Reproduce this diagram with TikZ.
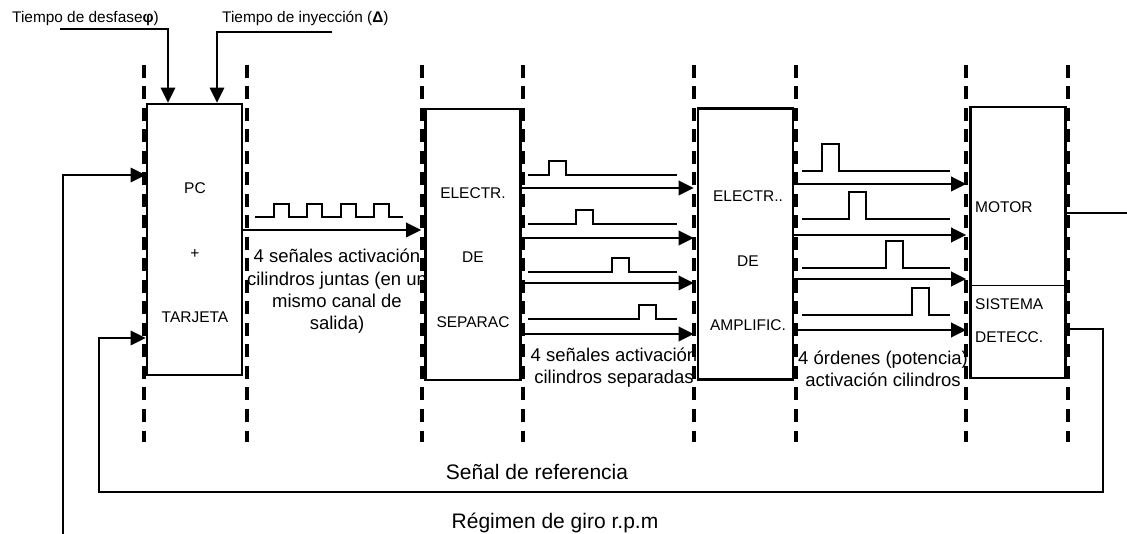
\documentclass[tikz,border=0pt]{standalone}
\usepackage{fontspec}
\setmainfont{Liberation Sans}
\usetikzlibrary{arrows.meta,positioning}

\begin{document}
\begin{tikzpicture}[
  x=1pt, y=-1pt,
  >={Triangle[length=15pt,width=14.5pt]},
  blk/.style={draw,line width=2.6pt,inner sep=0pt,minimum width=95pt,minimum height=271pt},
  boxtxt/.style={align=center,inner sep=0pt,font=\fontsize{15.5}{64.5}\selectfont},
  motxt/.style={anchor=west,align=left,inner sep=0pt,font=\fontsize{15.5}{33}\selectfont},
  guide/.style={line width=4pt,dash pattern=on 13pt off 8.5pt},
  sig/.style={->,line width=2pt,shorten >=3pt},
  wave/.style={line width=1.5pt},
  fb/.style={line width=1.5pt},
  lbl/.style={align=center,inner sep=0pt,font=\fontsize{18.5}{22.3}\selectfont},
  biglbl/.style={inner sep=0pt,font=\fontsize{21}{25}\selectfont},
  toplbl/.style={anchor=base west,inner sep=0pt,font=\fontsize{15.4}{18}\selectfont},
]
\useasboundingbox (0,0) rectangle (1127,534);

% blocks
\node[blk] (pc)    at (194.5,239.5) {};
\node[blk] (sep)   at (473,244.5) {};
\node[blk] (amp)   at (745.5,244) {};
\node[blk] (motor) at (1018,242.5) {};
\draw[line width=1pt,shorten <=1.5pt,shorten >=1.5pt] (motor.west |- 0,286) -- (motor.east |- 0,286);

\node[boxtxt] (pcTxt)  at (195,253)   {PC\\+\\TARJETA};
\node[boxtxt] (sepTxt) at (473,257.5) {ELECTR.\\DE\\SEPARAC};
\node[boxtxt] (ampTxt) at (748,261)   {ELECTR..\\DE\\AMPLIFIC.};
\node[motxt]  (motTxt) at (975,207)   {MOTOR};
\node[motxt]  (detTxt) at (975,320.5) {SISTEMA\\DETECC.};

% inputs on top
\coordinate (phiIn)   at (60,29);
\coordinate (deltaIn) at (332,32);
\node[toplbl] (phiLbl)   at (12,23)  {Tiempo de desfase\textbf{φ})};
\node[toplbl] (deltaLbl) at (222,23) {Tiempo de inyección (\textbf{Δ})};
\draw[fb,->] (phiIn) -| ([xshift=-26.5pt]pc.north);
\draw[fb,->] (deltaIn) -| ([xshift=22.5pt]pc.north);

% joined signals
\draw[wave] (255,217) foreach \p in {274,307,341,374} { -- (\p,217) -- (\p,204) -- ++(15,0) -- ++(0,13) } -- (403,217);
\draw[sig] (pc.east |- 0,230) -- (sep.west |- 0,230);
\node[lbl] (jointLbl) at (337,291.5) {4 señales activación\\cilindros juntas (en un\\mismo canal de\\salida)};

% separated signals
\foreach \yb/\p/\ya in {175/549/188, 224/576/238, 272/612/283, 319/639/334}{
  \draw[wave] (528,\yb) -- (\p,\yb) -- ++(0,-14) -- ++(17,0) -- ++(0,14) -- (677,\yb);
  \draw[sig] (sep.east |- 0,\ya) -- (amp.west |- 0,\ya);
}
\node[lbl] (sepLbl) at (614,367.5) {4 señales activación\\cilindros separadas};

% power orders
\foreach \yb/\p/\ya in {171/822/184, 219/849/235, 268/886/279, 315/912/330}{
  \draw[wave] (802,\yb) -- (\p,\yb) -- ++(0,-27) -- ++(17,0) -- ++(0,27) -- (950,\yb);
  \draw[sig] (amp.east |- 0,\ya) -- (motor.west |- 0,\ya);
}
\node[lbl] (ampLbl) at (883,368.5) {4 órdenes (potencia)\\activación cilindros};

% dashed guides
\foreach \x in {144,247,422,523,694,796,966,1068}
  \draw[guide] (\x,65) -- (\x,442);

% feedback loops
\coordinate (rpmOut) at (1127,213);
\coordinate (rpmIn)  at (63,534);
\draw[fb] (motor.east |- 0,213) -- (rpmOut);
\draw[fb,->] (rpmIn) |- (pc.west |- 0,175);
\draw[fb,->] (motor.east |- 0,329) -- (1103,329) |- (99,492) |- (pc.west |- 0,338);
\node[biglbl] (refLbl) at (537,472) {Señal de referencia};
\node[biglbl] (rpmLbl) at (555,523) {Régimen de giro r.p.m};
\end{tikzpicture}
\end{document}
